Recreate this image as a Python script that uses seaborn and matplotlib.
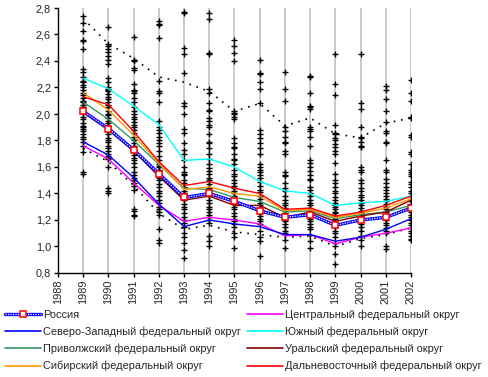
import matplotlib
matplotlib.use("Agg")
import pandas as pd
import seaborn as sns
import matplotlib.pyplot as plt
from matplotlib.lines import Line2D
from matplotlib.ticker import FuncFormatter

# Years on the chart
years = list(range(1989, 2003))

# Federal district lines
russia = [2.02, 1.89, 1.73, 1.55, 1.37, 1.40, 1.34, 1.27, 1.22, 1.24, 1.16, 1.20, 1.22, 1.29]
central = [1.76, 1.66, 1.48, 1.31, 1.19, 1.22, 1.20, 1.17, 1.08, 1.09, 1.02, 1.07, 1.10, 1.14]
northwest = [1.79, 1.69, 1.52, 1.32, 1.15, 1.20, 1.17, 1.15, 1.09, 1.09, 1.04, 1.07, 1.13, 1.21]
south = [2.27, 2.19, 2.06, 1.92, 1.65, 1.66, 1.60, 1.49, 1.42, 1.40, 1.31, 1.33, 1.34, 1.38]
volga = [2.09, 1.96, 1.80, 1.62, 1.44, 1.43, 1.37, 1.34, 1.26, 1.27, 1.21, 1.24, 1.26, 1.31]
ural = [2.01, 1.88, 1.72, 1.53, 1.35, 1.38, 1.31, 1.31, 1.22, 1.26, 1.19, 1.23, 1.26, 1.35]
siberia = [2.16, 2.03, 1.84, 1.63, 1.43, 1.45, 1.40, 1.38, 1.27, 1.28, 1.22, 1.25, 1.29, 1.36]
fareast = [2.13, 2.07, 1.87, 1.64, 1.46, 1.49, 1.44, 1.40, 1.28, 1.29, 1.23, 1.26, 1.31, 1.38]

# dotted envelope lines
upper = [2.72, 2.53, 2.42, 2.28, 2.24, 2.17, 2.02, 2.08, 1.91, 1.97, 1.85, 1.82, 1.93, 1.97]
lower = [1.74, 1.64, 1.46, 1.25, 1.13, 1.16, 1.11, 1.09, 1.07, 1.08, 1.00, 1.06, 1.09, 1.14]

# regional values ("+" markers), one list per year
r1989 = [2.74, 2.69, 2.63, 2.56, 2.55, 2.49, 2.34, 2.32, 2.28, 2.25, 2.24, 2.22, 2.20, 2.18, 2.16,
         2.14, 2.12, 2.10, 2.09, 2.07, 2.05, 2.03, 2.01, 1.98, 1.96, 1.93, 1.91, 1.90, 1.89, 1.87,
         1.85, 1.83, 1.81, 1.79, 1.76, 1.71, 1.56, 1.55]
r1990 = [2.66, 2.53, 2.51, 2.49, 2.47, 2.44, 2.41, 2.38, 2.27, 2.24, 2.20, 2.19, 2.18, 2.17, 2.15,
         2.13, 2.11, 2.09, 2.07, 2.05, 2.02, 2.00, 1.99, 1.97, 1.95, 1.93, 1.91, 1.89, 1.87, 1.85,
         1.82, 1.80, 1.79, 1.76, 1.74, 1.72, 1.70, 1.68, 1.67, 1.66, 1.60, 1.44, 1.42, 1.40]
r1991 = [2.58, 2.41, 2.40, 2.35, 2.33, 2.23, 2.18, 2.17, 2.16, 2.12, 2.09, 2.05, 2.02, 2.00, 1.98,
         1.96, 1.94, 1.92, 1.90, 1.88, 1.86, 1.83, 1.80, 1.78, 1.76, 1.73, 1.71, 1.69, 1.67, 1.65,
         1.63, 1.60, 1.56, 1.54, 1.52, 1.50, 1.48, 1.46, 1.43, 1.28, 1.27, 1.24, 1.23]
r1992 = [2.70, 2.68, 2.67, 2.57, 2.25, 2.17, 2.16, 2.09, 1.95, 1.90, 1.88, 1.86, 1.83, 1.80, 1.78,
         1.76, 1.72, 1.68, 1.65, 1.62, 1.61, 1.60, 1.58, 1.55, 1.52, 1.50, 1.47, 1.45, 1.42, 1.40,
         1.38, 1.35, 1.33, 1.30, 1.28, 1.26, 1.24, 1.13, 1.05, 1.03]
r1993 = [2.77, 2.76, 2.50, 2.45, 2.31, 2.08, 2.06, 2.00, 1.89, 1.86, 1.78, 1.73, 1.70, 1.65, 1.60,
         1.56, 1.55, 1.54, 1.50, 1.48, 1.45, 1.42, 1.40, 1.38, 1.35, 1.32, 1.30, 1.28, 1.25, 1.22,
         1.20, 1.18, 1.15, 1.10, 1.07, 1.03, 0.97, 0.91]
r1994 = [2.76, 2.72, 2.46, 2.45, 2.19, 2.16, 2.08, 2.03, 2.02, 1.97, 1.95, 1.92, 1.90, 1.85, 1.79,
         1.78, 1.74, 1.70, 1.66, 1.62, 1.59, 1.57, 1.55, 1.52, 1.50, 1.47, 1.44, 1.42, 1.40, 1.38,
         1.35, 1.33, 1.30, 1.28, 1.26, 1.24, 1.22, 1.20, 1.18, 1.08, 1.04, 1.00]
r1995 = [2.56, 2.51, 2.46, 2.40, 2.02, 2.01, 2.00, 1.98, 1.96, 1.82, 1.78, 1.75, 1.74, 1.70, 1.66,
         1.65, 1.62, 1.58, 1.55, 1.53, 1.50, 1.48, 1.46, 1.44, 1.42, 1.40, 1.38, 1.35, 1.32, 1.30,
         1.28, 1.25, 1.23, 1.21, 1.19, 1.17, 1.15, 1.10, 1.07, 0.99]
r1996 = [2.41, 2.31, 2.30, 2.24, 2.19, 2.08, 1.88, 1.85, 1.82, 1.78, 1.74, 1.70, 1.62, 1.60, 1.58,
         1.56, 1.54, 1.52, 1.49, 1.46, 1.43, 1.41, 1.38, 1.36, 1.33, 1.31, 1.29, 1.27, 1.25, 1.23,
         1.21, 1.19, 1.17, 1.12, 1.07, 1.04, 0.93]
r1997 = [2.32, 2.19, 2.10, 1.90, 1.87, 1.83, 1.79, 1.78, 1.72, 1.70, 1.56, 1.54, 1.53, 1.48, 1.44,
         1.42, 1.38, 1.35, 1.33, 1.31, 1.29, 1.27, 1.25, 1.23, 1.21, 1.19, 1.17, 1.15, 1.12, 1.10,
         1.05, 0.99]
r1998 = [2.29, 2.28, 2.16, 2.06, 2.05, 2.04, 1.90, 1.89, 1.87, 1.83, 1.76, 1.65, 1.63, 1.60, 1.57,
         1.54, 1.51, 1.50, 1.45, 1.43, 1.40, 1.38, 1.35, 1.33, 1.31, 1.29, 1.27, 1.25, 1.23, 1.21,
         1.19, 1.17, 1.15, 1.13, 1.09, 1.04, 0.99]
r1999 = [2.45, 2.23, 2.14, 1.92, 1.86, 1.85, 1.82, 1.80, 1.77, 1.75, 1.72, 1.70, 1.63, 1.55, 1.50,
         1.48, 1.45, 1.42, 1.40, 1.37, 1.35, 1.33, 1.31, 1.30, 1.28, 1.26, 1.25, 1.23, 1.21, 1.18,
         1.15, 1.12, 1.10, 1.07, 1.03, 1.00, 0.94, 0.87]
r2000 = [2.45, 2.08, 2.04, 1.90, 1.83, 1.82, 1.79, 1.76, 1.75, 1.60, 1.58, 1.56, 1.50, 1.48, 1.44,
         1.42, 1.39, 1.37, 1.35, 1.33, 1.31, 1.29, 1.27, 1.25, 1.23, 1.21, 1.19, 1.17, 1.15, 1.12,
         1.08, 1.05, 1.00]
r2001 = [2.21, 2.18, 2.11, 2.02, 1.94, 1.87, 1.86, 1.79, 1.78, 1.65, 1.58, 1.56, 1.51, 1.48, 1.45,
         1.43, 1.40, 1.38, 1.36, 1.34, 1.32, 1.30, 1.28, 1.26, 1.24, 1.22, 1.20, 1.18, 1.16, 1.14,
         1.12, 1.10, 1.00, 0.98]
r2002 = [2.26, 2.16, 2.10, 1.98, 1.97, 1.84, 1.83, 1.71, 1.70, 1.62, 1.58, 1.56, 1.55, 1.53, 1.49,
         1.47, 1.45, 1.42, 1.40, 1.38, 1.36, 1.34, 1.32, 1.30, 1.28, 1.26, 1.24, 1.22, 1.20, 1.18,
         1.16, 1.14, 1.12, 1.10, 1.08, 1.06, 1.05]

district_names = [
    "Центральный федеральный округ",
    "Северо-Западный федеральный округ",
    "Южный федеральный округ",
    "Приволжский федеральный округ",
    "Уральский федеральный округ",
    "Сибирский федеральный округ",
    "Дальневосточный федеральный округ",
]
district_colors = ["#ff00ff", "#0000ff", "#00ffff", "#339966", "#800000", "#ff9900", "#ff0000"]
district_values = [central, northwest, south, volga, ural, siberia, fareast]

FONT_SIZE = 7.9


def build_frames():
    """Long-form tables for seaborn."""
    region_lists = [r1989, r1990, r1991, r1992, r1993, r1994, r1995,
                    r1996, r1997, r1998, r1999, r2000, r2001, r2002]
    pts = pd.DataFrame(
        [(y, v) for y, vals in zip(years, region_lists) for v in vals],
        columns=["year", "value"])
    lines = pd.DataFrame(
        [(name, y, v) for name, vals in zip(district_names, district_values)
         for y, v in zip(years, vals)],
        columns=["district", "year", "value"])
    return pts, lines


def main():
    pts, lines = build_frames()

    sns.set_style("white")
    plt.rcParams["font.family"] = ["Liberation Sans", "DejaVu Sans"]
    plt.rcParams["font.size"] = FONT_SIZE

    fig = plt.figure(figsize=(4.88, 3.77), dpi=100)
    ax = fig.add_axes([58 / 488, 1 - 273 / 377, 353 / 488, 265 / 377])

    # vertical grey lines at each year
    for y in years:
        ax.axvline(y, color="#c0c0c0", lw=1.2, zorder=0)

    sns.scatterplot(data=pts, x="year", y="value", marker="+", color="black",
                    s=22, linewidth=1.0, ax=ax, zorder=2, legend=False)

    ax.plot(years, upper, color="black", lw=1.2, linestyle=(0, (1, 3.5)), zorder=3)
    ax.plot(years, lower, color="black", lw=1.2, linestyle=(0, (1, 3.5)), zorder=3)

    sns.lineplot(data=lines, x="year", y="value", hue="district",
                 hue_order=district_names, palette=district_colors,
                 lw=1.0, legend=False, ax=ax, zorder=4)

    # Russia: checkered blue line with hollow red squares
    ax.plot(years, russia, color="#0000ff", lw=2.4, zorder=5, solid_capstyle="butt")
    ax.plot(years, russia, color="white", lw=0.9, linestyle=(0, (1, 1)), zorder=6)
    ax.plot(years, russia, linestyle="none", marker="s", ms=4, mfc="white",
            mec="#ff0000", mew=1.1, zorder=7)

    ax.set_xlim(1988, 2002)
    ax.set_ylim(0.8, 2.8)
    ax.set_xticks(range(1988, 2003))
    ax.set_xticklabels([str(y) for y in range(1988, 2003)], rotation=90)
    ax.set_yticks([0.8 + 0.2 * i for i in range(11)])
    ax.yaxis.set_major_formatter(FuncFormatter(lambda v, p: f"{v:.1f}".replace(".", ",")))
    ax.set_xlabel("")
    ax.set_ylabel("")
    ax.tick_params(axis="both", direction="out", length=3, width=1, color="black",
                   labelsize=FONT_SIZE, pad=2, left=True, bottom=True)
    for side in ["top", "right"]:
        ax.spines[side].set_visible(False)
    for side in ["left", "bottom"]:
        ax.spines[side].set_color("black")
        ax.spines[side].set_linewidth(1)

    # legend, column-first ordering
    russia_handle = (
        Line2D([], [], color="#0000ff", lw=2.4),
        Line2D([], [], color="white", lw=0.9, linestyle=(0, (1, 1))),
        Line2D([], [], linestyle="none", marker="s", ms=4, mfc="white", mec="#ff0000", mew=1.1),
    )
    dh = {n: Line2D([], [], color=c, lw=1.2) for n, c in zip(district_names, district_colors)}
    order = ["Россия", district_names[1], district_names[3], district_names[5],
             district_names[0], district_names[2], district_names[4], district_names[6]]
    handles = [russia_handle if n == "Россия" else dh[n] for n in order]
    fig.legend(handles, order, ncol=2, loc="upper left",
               bbox_to_anchor=(5 / 488, 1 - 309 / 377), frameon=False,
               handlelength=3.3, handletextpad=0.2, columnspacing=0.5,
               labelspacing=0.62, borderpad=0, borderaxespad=0, fontsize=FONT_SIZE)

    fig.savefig("out.png", dpi=100)
    plt.close(fig)


if __name__ == "__main__":
    main()
